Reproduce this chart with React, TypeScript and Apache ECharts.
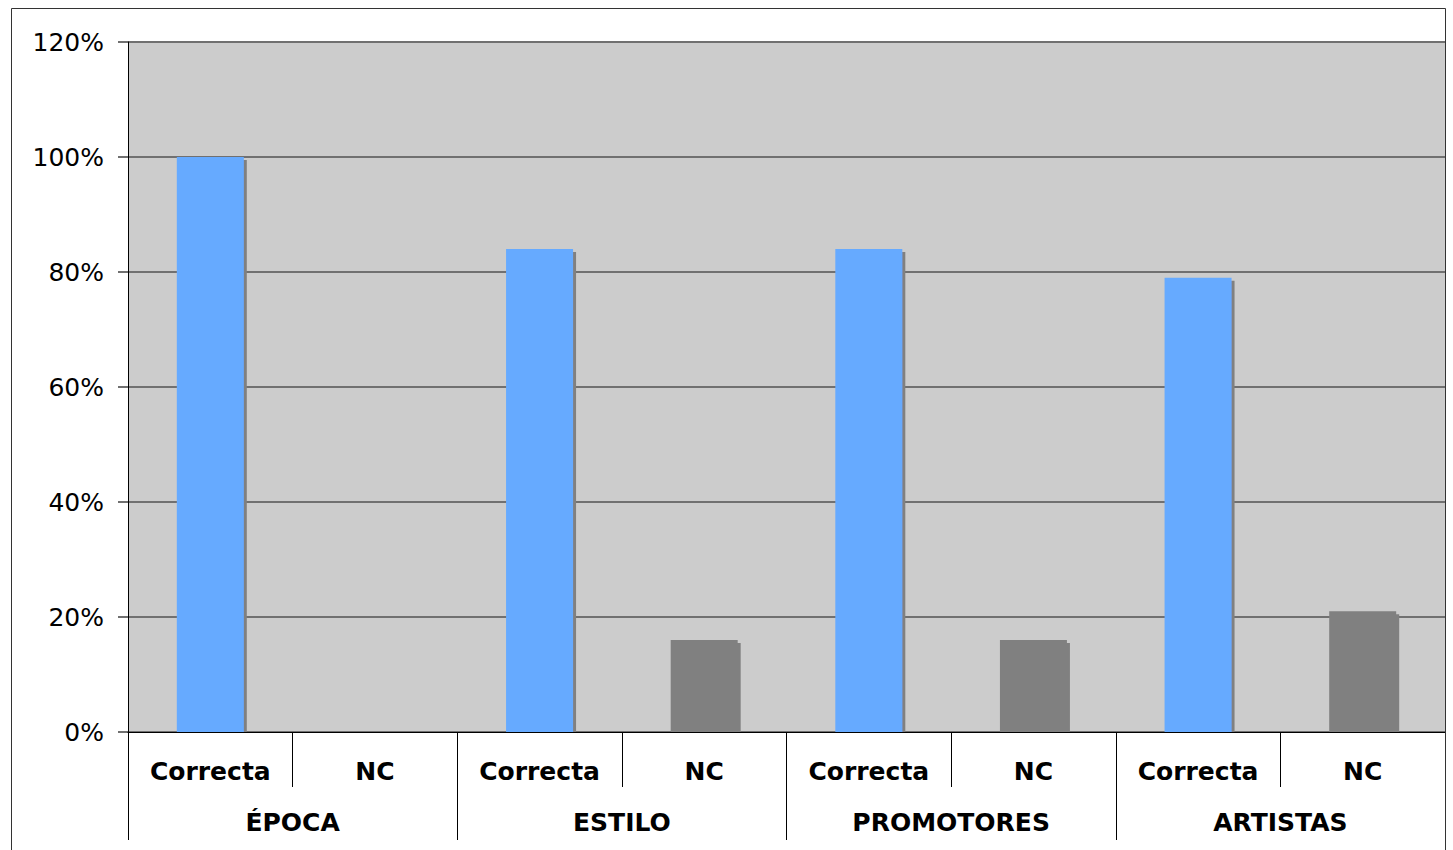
import React, { useEffect, useRef } from "react";
import * as echarts from "echarts";

const groups = ["ÉPOCA", "ESTILO", "PROMOTORES", "ARTISTAS"];
const answerTypes = ["Correcta", "NC"];
const correctaValues = [100, 84, 84, 79];
const ncValues = [0, 16, 16, 21];
const yTicks = { min: 0, max: 120, interval: 20 };

const BLUE = "#66AAFF";
const GRAY = "#808080";

export default function App() {
  const ref = useRef<HTMLDivElement>(null);

  useEffect(() => {
    if (!ref.current) return;
    const chart = echarts.init(ref.current, undefined, { renderer: "svg" });

    const subCats: string[] = [];
    const data: any[] = [];
    groups.forEach((g, i) => {
      subCats.push(answerTypes[0], answerTypes[1]);
      data.push({ value: correctaValues[i], itemStyle: { color: BLUE } });
      data.push({ value: ncValues[i], itemStyle: { color: GRAY } });
    });

    const labelFont = "'DejaVu Sans', Verdana, sans-serif";

    chart.setOption({
      animation: false,
      backgroundColor: "#ffffff",
      grid: {
        left: 128,
        right: 8,
        top: 42,
        bottom: 118,
        show: true,
        backgroundColor: "#CCCCCC",
        borderWidth: 0,
      },
      xAxis: [
        {
          type: "category",
          data: subCats,
          position: "bottom",
          z: 10,
          axisLine: { show: true, lineStyle: { color: "#000", width: 1 } },
          axisTick: {
            show: true,
            interval: 0,
            length: 55,
            lineStyle: { color: "#000", width: 1 },
          },
          axisLabel: {
            interval: 0,
            margin: 27,
            color: "#000",
            fontFamily: labelFont,
            fontWeight: "bold",
            fontSize: 25,
          },
          splitLine: { show: false },
        },
        {
          type: "category",
          data: groups,
          position: "bottom",
          offset: 55,
          z: 10,
          axisLine: { show: false },
          axisTick: {
            show: true,
            interval: 0,
            length: 53,
            lineStyle: { color: "#000", width: 1 },
          },
          axisLabel: {
            interval: 0,
            margin: 23,
            color: "#000",
            fontFamily: labelFont,
            fontWeight: "bold",
            fontSize: 25,
          },
          splitLine: { show: false },
        },
      ],
      yAxis: {
        type: "value",
        min: yTicks.min,
        max: yTicks.max,
        interval: yTicks.interval,
        axisLine: { show: true, lineStyle: { color: "#000", width: 1 } },
        axisTick: { show: true, length: 10, lineStyle: { color: "#707070", width: 2 } },
        axisLabel: {
          formatter: "{value}%",
          margin: 24,
          color: "#000",
          fontFamily: labelFont,
          fontSize: 25,
        },
        splitLine: { show: true, lineStyle: { color: "#707070", width: 2 } },
      },
      series: [
        {
          type: "bar",
          xAxisIndex: 0,
          data,
          barWidth: 67,
          itemStyle: {
            shadowColor: "#808080",
            shadowOffsetX: 3,
            shadowOffsetY: 3,
            shadowBlur: 0,
          },
        },
      ],
      graphic: [
        {
          type: "rect",
          shape: { x: 129, y: 733, width: 1316, height: 4 },
          style: { fill: "#ffffff" },
          silent: true,
          z: 5,
        },
        {
          type: "rect",
          shape: { x: 11.5, y: 8.5, width: 1434, height: 900 },
          style: { fill: "none", stroke: "#333", lineWidth: 1 },
          silent: true,
          z: 100,
        },
      ],
    });

    return () => chart.dispose();
  }, []);

  return (
    <div
      ref={ref}
      style={{ position: "fixed", left: 0, top: 0, width: 1453, height: 850 }}
    />
  );
}
